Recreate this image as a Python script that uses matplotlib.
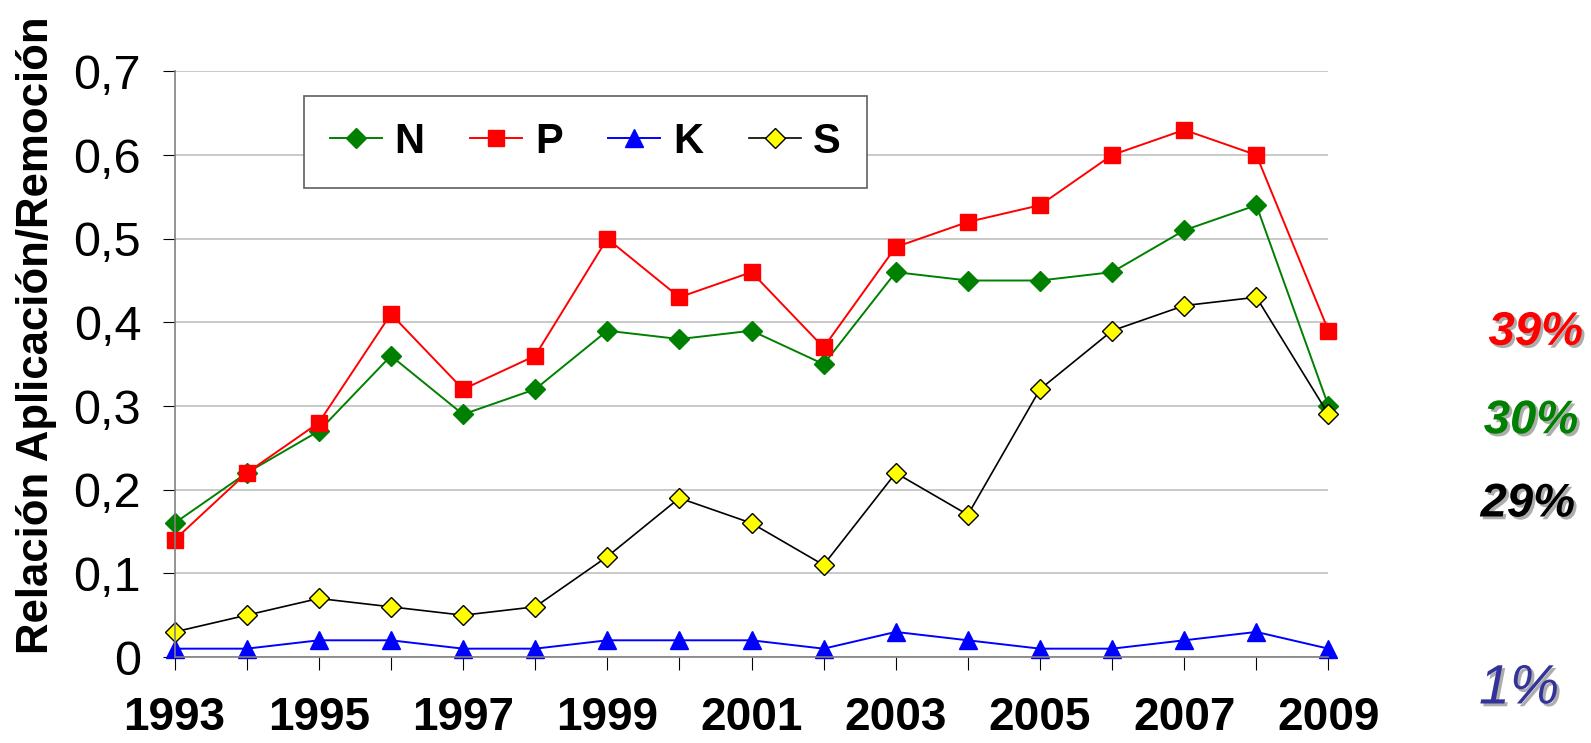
import matplotlib.pyplot as plt
import matplotlib.patheffects as pe

years = list(range(1993, 2010))
n_vals = [0.16, 0.22, 0.27, 0.36, 0.29, 0.32, 0.39, 0.38, 0.39, 0.35, 0.46, 0.45, 0.45, 0.46, 0.51, 0.54, 0.30]
p_vals = [0.14, 0.22, 0.28, 0.41, 0.32, 0.36, 0.50, 0.43, 0.46, 0.37, 0.49, 0.52, 0.54, 0.60, 0.63, 0.60, 0.39]
k_vals = [0.01, 0.01, 0.02, 0.02, 0.01, 0.01, 0.02, 0.02, 0.02, 0.01, 0.03, 0.02, 0.01, 0.01, 0.02, 0.03, 0.01]
s_vals = [0.03, 0.05, 0.07, 0.06, 0.05, 0.06, 0.12, 0.19, 0.16, 0.11, 0.22, 0.17, 0.32, 0.39, 0.42, 0.43, 0.29]

pct_labels = ["39%", "30%", "29%", "1%"]
pct_colors = ["#ff0000", "#008000", "#000000", "#333399"]
pct_x = [0.995, 0.992, 0.990, 0.980]  # figure fraction, right edge
pct_y = [0.552, 0.433, 0.321, 0.072]
pct_size = [34, 34, 34, 40]
pct_weight = ['bold', 'bold', 'bold', 'normal']

plt.rcParams['font.family'] = ['Liberation Sans', 'DejaVu Sans']

fig = plt.figure(figsize=(15.91, 7.43), dpi=100)
ax = fig.add_axes([0.1097, 0.1157, 0.7253, 0.7883])

ax.plot(years, n_vals, color='#008000', marker='D', markersize=10, lw=1.4, label='N', clip_on=False)
ax.plot(years, p_vals, color='#ff0000', marker='s', markersize=12, lw=1.4, label='P', clip_on=False)
ax.plot(years, k_vals, color='#0000ff', marker='^', markersize=13, lw=1.4, label='K', clip_on=False)
ax.plot(years, s_vals, color='black', marker='D', markersize=10, markerfacecolor='#ffff00',
        markeredgecolor='black', lw=1.2, label='S', clip_on=False)

ax.set_xlim(1993, 2009)
ax.set_ylim(0, 0.7)
ax.set_xticks(years)
ax.set_xticklabels([str(y) if (y - 1993) % 2 == 0 else '' for y in years])
ax.set_yticks([0, 0.1, 0.2, 0.3, 0.4, 0.5, 0.6, 0.7])
ax.set_yticklabels(['0', '0,1', '0,2', '0,3', '0,4', '0,5', '0,6', '0,7'])
ax.tick_params(axis='x', direction='out', length=9, pad=19, labelsize=33)
ax.tick_params(axis='y', direction='out', length=9, pad=15, labelsize=35)
for lab in ax.get_xticklabels():
    lab.set_fontweight('bold')

ax.grid(axis='y', color='#c0c0c0', lw=1.2)
ax.set_axisbelow(True)
for side in ['top', 'right']:
    ax.spines[side].set_visible(False)
ax.spines['left'].set_color('#808080')
ax.spines['bottom'].set_color('#808080')
ax.spines['left'].set_linewidth(1.2)
ax.spines['bottom'].set_linewidth(1.2)

ax.set_ylabel('Relación Aplicación/Remoción', fontsize=31.5, fontweight='bold')
ax.yaxis.set_label_coords(-0.102, 0.55)

leg = ax.legend(loc='upper left', bbox_to_anchor=(304 / 1591, 1 - 96 / 743),
                bbox_transform=fig.transFigure, ncol=4, fontsize=30, frameon=True,
                fancybox=False, edgecolor='#606060', framealpha=1, borderpad=0.62,
                handlelength=1.25, columnspacing=1.1, handletextpad=0.3, borderaxespad=0)
leg.get_frame().set_linewidth(1.2)
for t in leg.get_texts():
    t.set_fontweight('bold')

for lab, col, xx, yy, sz, wt in zip(pct_labels, pct_colors, pct_x, pct_y, pct_size, pct_weight):
    fig.text(xx, yy, lab, color=col, fontsize=sz, fontweight=wt, fontstyle='italic',
             ha='right', va='center',
             path_effects=[pe.withSimplePatchShadow(offset=(2, -2), shadow_rgbFace='#999999', alpha=0.8)])

fig.savefig('out.png', dpi=100)
